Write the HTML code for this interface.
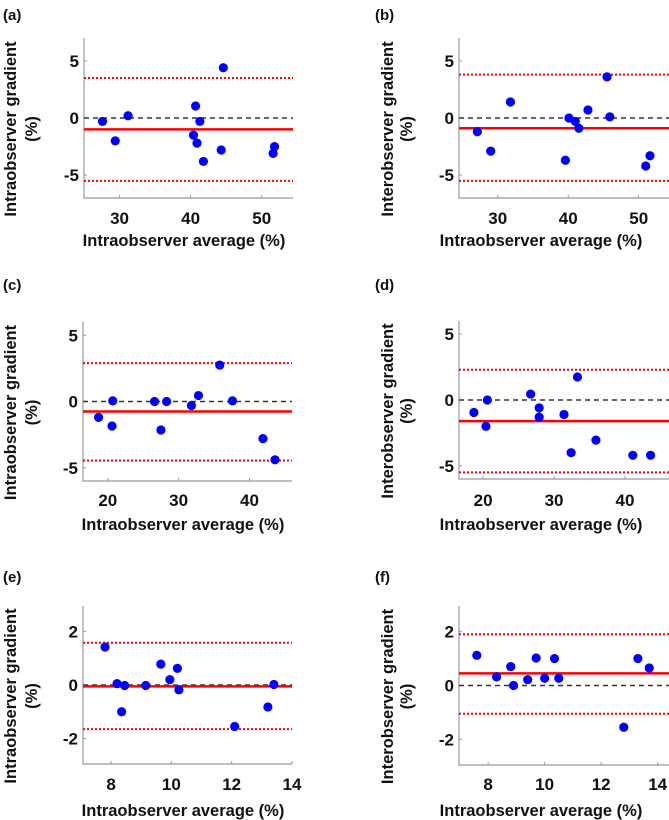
<!DOCTYPE html>
<html><head><meta charset="utf-8"><style>
html,body{margin:0;padding:0;background:#fff;width:669px;height:820px;overflow:hidden}
svg{display:block;font-family:"Liberation Sans",Arial,sans-serif;font-weight:bold}
</style></head><body>
<svg id="fig" width="669" height="820" viewBox="0 0 669 820"></svg>
<script>
// ---- data ----
const xA=[27.6,29.4,31.2,40.4,40.7,40.9,41.3,41.8,44.3,44.6,51.6,51.8];
const yA=[-0.3,-2.0,0.2,-1.5,1.05,-2.2,-0.3,-3.8,-2.8,4.4,-3.1,-2.5];
const xB=[27.1,29.0,31.8,39.6,40.1,41.0,41.5,42.8,45.5,45.9,51.0,51.6];
const yB=[-1.2,-2.9,1.4,-3.7,0.0,-0.3,-0.9,0.7,3.6,0.1,-4.2,-3.3];
const xC=[18.7,20.6,20.7,26.6,27.5,28.3,31.8,32.8,35.8,37.6,41.9,43.6];
const yC=[-1.2,-1.85,0.05,0.0,-2.15,0.0,-0.3,0.45,2.75,0.05,-2.8,-4.4];
const xD=[18.7,20.4,20.6,26.7,27.9,27.9,31.4,32.4,33.3,35.9,41.1,43.6];
const yD=[-0.95,-2.0,0.0,0.45,-0.6,-1.3,-1.1,-4.0,1.75,-3.05,-4.2,-4.2];
const xE=[7.8,8.2,8.35,8.45,9.15,9.65,9.95,10.2,10.25,12.1,13.2,13.4];
const yE=[1.42,0.05,-1.0,-0.02,-0.02,0.78,0.2,0.62,-0.18,-1.55,-0.82,0.02];
const xF=[7.6,8.3,8.8,8.9,9.4,9.7,10.0,10.35,10.5,12.8,13.3,13.7];
const yF=[1.12,0.32,0.7,0.0,0.22,1.02,0.27,1.0,0.27,-1.55,1.0,0.65];
// mean, upper LoA, lower LoA
const statsA=[-1.0,3.5,-5.5];
const statsB=[-0.9,3.8,-5.5];
const statsC=[-0.75,2.9,-4.45];
const statsD=[-1.6,2.3,-5.5];
const statsE=[-0.05,1.58,-1.65];
const statsF=[0.45,1.9,-1.05];
const xTicksAB=[30,40,50];
const xTicksCD=[20,30,40];
const xTicksEF=[8,10,12,14];
const yTicksABCD=[5,0,-5];
const yTicksEF=[2,0,-2];

const NS="http://www.w3.org/2000/svg";
const svg=document.getElementById('fig');
function el(tag,attrs,parent){const e=document.createElementNS(NS,tag);for(const k in attrs)e.setAttribute(k,attrs[k]);(parent||svg).appendChild(e);return e;}

const panels=[
 {id:'a',xs:xA,ys:yA,st:statsA,xt:xTicksAB,yt:yTicksABCD,L:84,R:293,T:38,B:198,x0:25,x1:54.4,y0:-7,y1:7,lab:[3,20],col:0,row:0,yt1:'Intraobserver gradient'},
 {id:'b',xs:xB,ys:yB,st:statsB,xt:xTicksAB,yt:yTicksABCD,L:459,R:669,T:38,B:198,x0:24.5,x1:54.3,y0:-7,y1:7,lab:[375,20],col:1,row:0,yt1:'Interobserver gradient'},
 {id:'c',xs:xC,ys:yC,st:statsC,xt:xTicksCD,yt:yTicksABCD,L:83,R:292,T:322,B:481,x0:16.5,x1:46,y0:-6,y1:6,lab:[3,290],col:0,row:1,yt1:'Intraobserver gradient'},
 {id:'d',xs:xD,ys:yD,st:statsD,xt:xTicksCD,yt:yTicksABCD,L:459,R:669,T:321,B:479,x0:16.6,x1:46.2,y0:-6,y1:6,lab:[375,290],col:1,row:1,yt1:'Interobserver gradient'},
 {id:'e',xs:xE,ys:yE,st:statsE,xt:xTicksEF,yt:yTicksEF,L:83,R:292,T:606,B:764,x0:7.07,x1:14,y0:-2.95,y1:2.95,lab:[3,582],col:0,row:2,yt1:'Intraobserver gradient'},
 {id:'f',xs:xF,ys:yF,st:statsF,xt:xTicksEF,yt:yTicksEF,L:459,R:669,T:606,B:765,x0:6.97,x1:14.4,y0:-2.95,y1:2.95,lab:[375,582],col:1,row:2,yt1:'Interobserver gradient'}
];
const xTitleY=[246,530,816];
const xTickY=[224,506,790];

panels.forEach(p=>{
 const g=el('g',{});
 
 
 const sx=v=>p.L+(v-p.x0)/(p.x1-p.x0)*(p.R-p.L);
 const sy=v=>p.B-(v-p.y0)/(p.y1-p.y0)*(p.B-p.T);
 const lab=el('text',{x:p.lab[0],y:p.lab[1],'font-size':15,fill:'#111'},g);lab.textContent='('+p.id+')';
 
 
 const ax=el('path',{d:`M${p.L},${p.T}V${p.B}H${p.R}`,fill:'none',stroke:'#999','stroke-width':1.2},g);
 
 
 p.yt.forEach(v=>{
  el('line',{x1:p.L,x2:p.L+3,y1:sy(v),y2:sy(v),stroke:'#999'},g);
  const t=el('text',{x:p.L-5,y:sy(v)+6,'font-size':17,'text-anchor':'end',fill:'#111'},g);t.textContent=v;
  
  
 });
 p.xt.forEach(v=>{
  el('line',{x1:sx(v),x2:sx(v),y1:p.B,y2:p.B-3,stroke:'#999'},g);
  const t=el('text',{x:sx(v),y:xTickY[p.row],'font-size':17,'text-anchor':'middle',fill:'#111'},g);t.textContent=v;
  
  
 });
 const z=el('line',{x1:p.L,x2:p.R,y1:sy(0),y2:sy(0),stroke:'#333','stroke-width':1.5,'stroke-dasharray':'5,4'},g);
 
 
 const m=el('line',{x1:p.L,x2:p.R,y1:sy(p.st[0]),y2:sy(p.st[0]),stroke:'#f00','stroke-width':2.5},g);
 
 
 [p.st[1],p.st[2]].forEach(v=>{
  const l=el('line',{x1:p.L,x2:p.R,y1:sy(v),y2:sy(v),stroke:'#f00','stroke-width':2,'stroke-dasharray':'2,2'},g);
  
  
 });
 p.xs.forEach((x,i)=>{
  const c=el('circle',{cx:sx(x),cy:sy(p.ys[i]),r:4.6,fill:'#0000ff'},g);
  
  
 });
 const xt=el('text',{x:(p.col?p.L+82:p.L+100),y:xTitleY[p.row],'font-size':16.5,'text-anchor':'middle',fill:'#111'},g);
 xt.textContent='Intraobserver average (%)';
 
 
 const cy=(p.T+p.B)/2+11;
 const c1=p.col?387:10, c2=p.col?406:31;
 const y1=el('text',{x:0,y:0,'font-size':16.5,'text-anchor':'middle',fill:'#111',transform:`translate(${c1+6},${cy}) rotate(-90)`},g);
 y1.textContent=p.yt1;
 
 
 const y2=el('text',{x:0,y:0,'font-size':16.5,'text-anchor':'middle',fill:'#111',transform:`translate(${c2+6},${cy}) rotate(-90)`},g);
 y2.textContent='(%)';
 
 
});
</script>
</body></html>
